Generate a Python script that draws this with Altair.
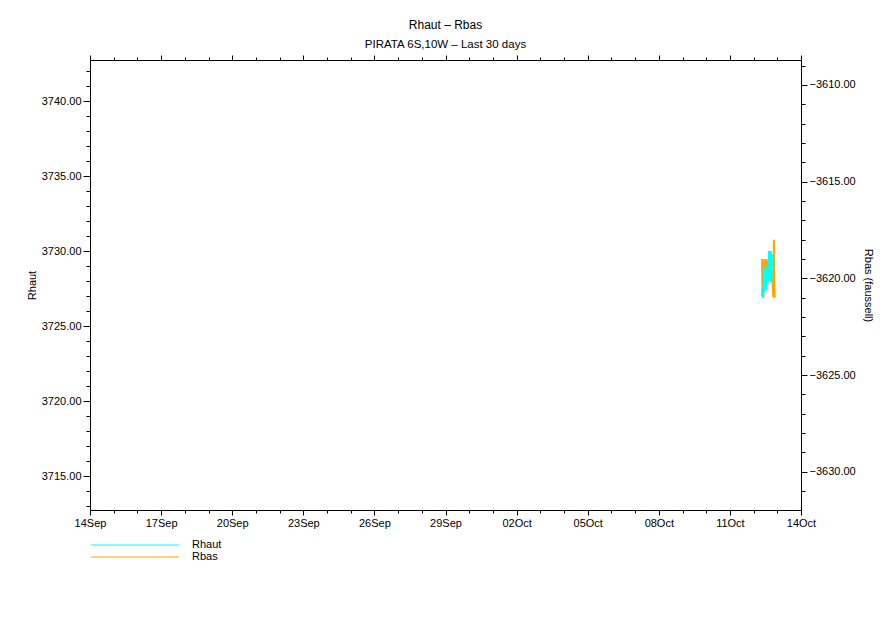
import altair as alt
import pandas as pd

# ---- data (Oct 12, half-hourly) ----
rhaut_times = ["2024-10-12T08:30", "2024-10-12T09:00", "2024-10-12T09:30", "2024-10-12T10:00",
               "2024-10-12T10:30", "2024-10-12T11:00", "2024-10-12T11:30", "2024-10-12T12:00",
               "2024-10-12T12:30", "2024-10-12T13:00", "2024-10-12T13:30", "2024-10-12T14:00",
               "2024-10-12T14:30", "2024-10-12T15:00", "2024-10-12T15:30", "2024-10-12T16:00",
               "2024-10-12T16:30", "2024-10-12T17:00", "2024-10-12T17:30", "2024-10-12T18:00",
               "2024-10-12T18:30", "2024-10-12T19:00"]
rhaut_values = [3727.0, 3727.5, 3726.9, 3727.4, 3728.9, 3727.3, 3729.0, 3727.6,
                3728.8, 3727.4, 3728.6, 3727.8, 3729.0, 3728.2, 3730.0, 3728.0,
                3729.9, 3728.9, 3730.0, 3727.9, 3729.8, 3728.9]

rbas_times = ["2024-10-12T08:30", "2024-10-12T09:00", "2024-10-12T09:30", "2024-10-12T10:00",
              "2024-10-12T10:30", "2024-10-12T11:00", "2024-10-12T11:30", "2024-10-12T12:00",
              "2024-10-12T12:30", "2024-10-12T13:00", "2024-10-12T13:30", "2024-10-12T14:00",
              "2024-10-12T14:30", "2024-10-12T15:00", "2024-10-12T15:30", "2024-10-12T16:00",
              "2024-10-12T16:30", "2024-10-12T17:00", "2024-10-12T17:30", "2024-10-12T18:00",
              "2024-10-12T18:30", "2024-10-12T19:00", "2024-10-12T19:30", "2024-10-12T20:00",
              "2024-10-12T20:30", "2024-10-12T21:00", "2024-10-12T21:30"]
rbas_values = [-3619.0, -3620.9, -3619.1, -3621.0, -3619.4, -3619.0, -3619.5, -3619.1,
               -3619.4, -3619.0, -3620.3, -3619.2, -3619.5, -3619.1, -3619.4, -3619.2,
               -3619.6, -3619.3, -3619.9, -3619.5, -3620.0, -3619.8, -3620.6, -3621.0,
               -3618.0, -3620.5, -3621.0]

series_names = ["Rhaut", "Rbas"]
series_colors = ["#00FFFF", "#FFA500"]

x_domain = [alt.DateTime(year=2024, month=9, date=14), alt.DateTime(year=2024, month=10, date=14)]
day_ticks = [alt.DateTime(year=2024, month=9 if d <= 30 else 10, date=d if d <= 30 else d - 30)
             for d in range(14, 45)]
left_domain = [3712.74, 3742.74]
left_ticks = list(range(3713, 3743))
right_domain = [-3631.98, -3608.71]
right_ticks = list(range(-3631, -3608))

FONT = "Liberation Sans"

df_h = pd.DataFrame({"time": rhaut_times, "value": rhaut_values, "series": "Rhaut"})
df_b = pd.DataFrame({"time": rbas_times, "value": rbas_values, "series": "Rbas"})

day_idx = "round((datum.value - datetime(2024,8,14)) / 86400000)"
x_major = f"{day_idx} % 3 === 0"

color_scale = alt.Scale(domain=series_names, range=series_colors)
legend = alt.Legend(
    title=None, orient="none", legendX=39, legendY=479,
    symbolType="M-8.8,0H8.8", symbolSize=100, symbolStrokeWidth=1.2,
    labelOffset=51, labelFont=FONT, labelFontSize=11, labelColor="black",
    rowPadding=1, padding=0, symbolOpacity=1,
)

bottom_axis = alt.Axis(
    orient="bottom", title=None, values=day_ticks, grid=False,
    labelExpr=f"{x_major} ? timeFormat(datum.value, '%d%b') : ''",
    tickSize={"condition": {"test": x_major, "value": 5}, "value": 3},
    labelFont=FONT, labelFontSize=11, labelColor="black", labelPadding=2,
    labelFlush=False, labelOverlap=False,
    domainColor="black", tickColor="black",
)
top_axis = alt.Axis(
    orient="top", title=None, values=day_ticks, grid=False, labels=False,
    tickSize={"condition": {"test": x_major, "value": 5}, "value": 3},
    domainColor="black", tickColor="black",
)

rbas = alt.Chart(df_b).mark_line(strokeWidth=2, clip=True).encode(
    x=alt.X("time:T", scale=alt.Scale(domain=x_domain), axis=top_axis),
    y=alt.Y("value:Q", scale=alt.Scale(domain=right_domain, zero=False, nice=False),
            axis=alt.Axis(orient="right", title="Rbas (faussell)", values=right_ticks, grid=False,
                          labelExpr="datum.value % 5 === 0 ? format(datum.value, '.2f') : ''",
                          tickSize={"condition": {"test": "datum.value % 5 === 0", "value": 6}, "value": 4},
                          labelFont=FONT, labelFontSize=11, labelColor="black", labelPadding=2,
                          titleFont=FONT, titleFontSize=11, titleFontWeight="normal", titleColor="black",
                          titlePadding=7, domainColor="black", tickColor="black")),
    color=alt.Color("series:N", scale=color_scale, sort=series_names),
)

rhaut = alt.Chart(df_h).mark_line(strokeWidth=2, clip=True).encode(
    x=alt.X("time:T", scale=alt.Scale(domain=x_domain), axis=bottom_axis),
    y=alt.Y("value:Q", scale=alt.Scale(domain=left_domain, zero=False, nice=False),
            axis=alt.Axis(orient="left", title="Rhaut", values=left_ticks, grid=False,
                          labelExpr="datum.value % 5 === 0 ? format(datum.value, '.2f') : ''",
                          tickSize={"condition": {"test": "datum.value % 5 === 0", "value": 7}, "value": 4},
                          labelFont=FONT, labelFontSize=11, labelColor="black", labelPadding=2,
                          titleFont=FONT, titleFontSize=11, titleFontWeight="normal", titleColor="black",
                          titlePadding=4, domainColor="black", tickColor="black")),
    color=alt.Color("series:N", scale=color_scale, sort=series_names, legend=legend),
)

chart = alt.layer(rbas, rhaut).resolve_scale(y="independent").resolve_axis(x="independent").properties(
    width=711, height=450,
    padding={"left": 82, "top": 52, "right": 80, "bottom": 90},
    autosize=alt.AutoSizeParams(type="none"),
    title=alt.TitleParams(
        text="Rhaut – Rbas", subtitle="PIRATA 6S,10W – Last 30 days",
        font=FONT, subtitleFont=FONT, fontSize=12, subtitleFontSize=11.5,
        fontWeight="normal", color="black", subtitleColor="black",
        anchor="middle", offset=3, subtitlePadding=7,
    ),
).configure_view(stroke=None).configure(background="white")

chart.save("out.html", embed_options={"renderer": "svg", "actions": False})
